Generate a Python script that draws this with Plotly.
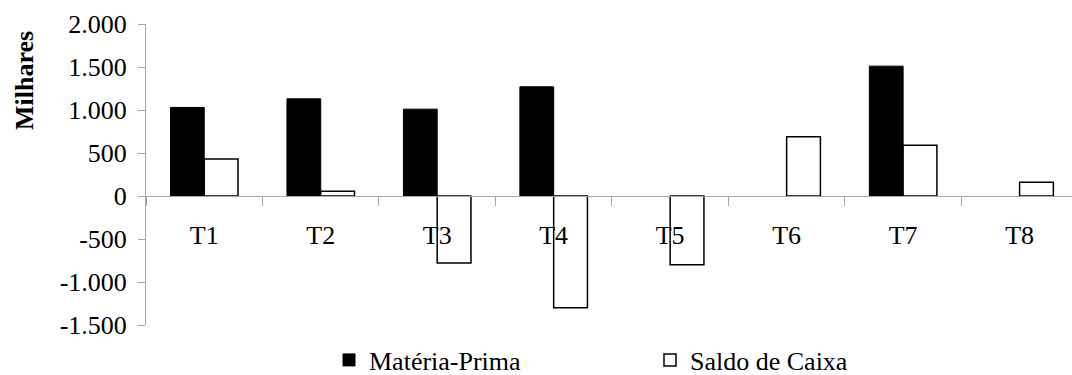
import plotly.graph_objects as go

# Quarterly values, in thousands (None = no value for that quarter)
periodos = ["T1", "T2", "T3", "T4", "T5", "T6", "T7", "T8"]
materia_prima = [1030, 1130, 1010, 1270, None, None, 1510, None]
saldo_caixa = [430, 55, -780, -1300, -800, 690, 590, 160]

y_ticks = [-1500, -1000, -500, 0, 500, 1000, 1500, 2000]
y_tick_labels = ["-1.500", "-1.000", "-500", "0", "500", "1.000", "1.500", "2.000"]

FONT = "Liberation Serif"
FONT_SIZE = 26
AXIS_GRAY = "#a6a6a6"

fig = go.Figure()
fig.add_trace(go.Bar(
    x=periodos, y=materia_prima, name="Matéria-Prima",
    marker=dict(color="black", line=dict(color="black", width=1)),
))
fig.add_trace(go.Bar(
    x=periodos, y=saldo_caixa, name="Saldo de Caixa",
    marker=dict(color="white", line=dict(color="black", width=1.5)),
))

y_min, y_max = -1500, 2000
zero_pos = (0 - y_min) / (y_max - y_min)

fig.update_layout(
    width=1072, height=375,
    margin=dict(l=146, r=0, t=24, b=50, autoexpand=False),
    paper_bgcolor="white", plot_bgcolor="white",
    font=dict(family=FONT, size=FONT_SIZE, color="black"),
    barmode="group", bargap=0.42, bargroupgap=0,
    showlegend=True,
    legend=dict(
        orientation="h", xref="container", yref="container",
        x=329 / 1072, y=15 / 375, xanchor="left", yanchor="middle",
        font=dict(family=FONT, size=FONT_SIZE, color="black"),
        itemwidth=30, entrywidth=276, entrywidthmode="pixels",
        bgcolor="rgba(0,0,0,0)",
    ),
    xaxis=dict(
        type="category", range=[-0.5, 7.45],
        anchor="free", position=zero_pos,
        showline=True, linecolor=AXIS_GRAY, linewidth=1,
        ticks="outside", tickson="boundaries", ticklen=9,
        tickcolor=AXIS_GRAY, tickwidth=1,
        ticklabelstandoff=16,
        tickfont=dict(family=FONT, size=FONT_SIZE),
        showgrid=False, zeroline=False,
    ),
    yaxis=dict(
        range=[y_min, y_max],
        tickvals=y_ticks, ticktext=y_tick_labels,
        showline=True, linecolor=AXIS_GRAY, linewidth=1,
        ticks="outside", ticklen=7, tickcolor=AXIS_GRAY, tickwidth=1,
        ticklabelstandoff=6,
        tickfont=dict(family=FONT, size=FONT_SIZE),
        showgrid=False, zeroline=False,
    ),
    annotations=[dict(
        text="<b>Milhares</b>", textangle=-90,
        xref="paper", yref="paper", x=0, y=(325 - 81) / 301,
        xanchor="center", yanchor="middle", xshift=-122,
        showarrow=False, font=dict(family=FONT, size=FONT_SIZE, color="black"),
    )],
)

fig.write_html("out.html")
